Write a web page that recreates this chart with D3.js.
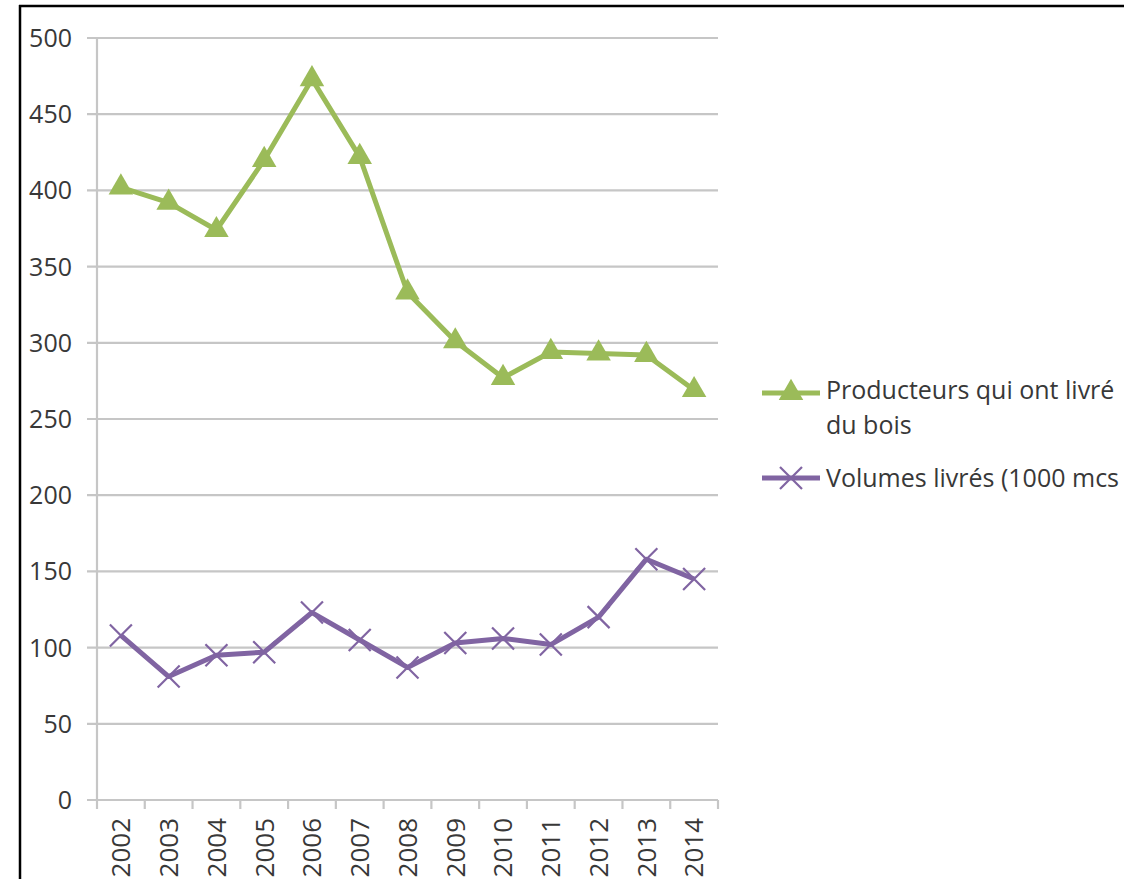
<!DOCTYPE html>
<html>
<head>
<meta charset="utf-8">
<script src="https://cdn.jsdelivr.net/npm/d3@7"></script>
<style>
  html, body { margin: 0; padding: 0; background: #fff; overflow: hidden; }
  svg { display: block; }
  text { font-family: "Open Sans", sans-serif; fill: #383838; }
</style>
</head>
<body>
<svg id="chart" width="1124" height="879"></svg>
<script>
const years = ["2002","2003","2004","2005","2006","2007","2008","2009","2010","2011","2012","2013","2014"];
const producteurs = [402, 392, 374, 420, 473, 422, 333, 301, 277, 294, 293, 292, 269];
const volumes = [108, 81, 95, 97, 123, 105, 87, 103, 106, 102, 120, 158, 145];
const yTicks = [0, 50, 100, 150, 200, 250, 300, 350, 400, 450, 500];
const seriesNames = ["Producteurs qui ont livré", "du bois", "Volumes livrés (1000 mcs"];

const green = "#9BBB59", purple = "#8064A2", grid = "#c6c6c6";
const svg = d3.select("#chart");

// frame
svg.append("line").attr("x1", 20).attr("x2", 20).attr("y1", 5).attr("y2", 879)
  .attr("stroke", "#000").attr("stroke-width", 2.5);
svg.append("line").attr("x1", 19).attr("x2", 1124).attr("y1", 6).attr("y2", 6)
  .attr("stroke", "#000").attr("stroke-width", 2.5);

const x = d3.scaleBand().domain(years).range([97, 718]);
const y = d3.scaleLinear().domain([0, 500]).range([800, 38]);

// gridlines + y labels
const gy = svg.append("g");
yTicks.forEach(t => {
  gy.append("line").attr("x1", 87).attr("x2", 718).attr("y1", y(t)).attr("y2", y(t))
    .attr("stroke", grid).attr("stroke-width", 2.2);
  gy.append("text").attr("x", 72).attr("y", y(t)).attr("dy", "0.36em")
    .attr("text-anchor", "end").attr("font-size", 25).text(t);
});
// y axis line
svg.append("line").attr("x1", 97).attr("x2", 97).attr("y1", y(500)).attr("y2", y(0))
  .attr("stroke", grid).attr("stroke-width", 2.2);

// x ticks at band boundaries
const bounds = years.map(d => x(d)).concat([x.range()[1]]);
bounds.forEach(b => {
  svg.append("line").attr("x1", b).attr("x2", b).attr("y1", 800).attr("y2", 809)
    .attr("stroke", grid).attr("stroke-width", 2.2);
});
// x labels
years.forEach(d => {
  const cx = x(d) + x.bandwidth() / 2;
  svg.append("text")
    .attr("transform", `translate(${cx},818) rotate(-90)`)
    .attr("text-anchor", "end").attr("dy", "0.36em").attr("font-size", 26).text(d);
});

const cx = (d, i) => x(years[i]) + x.bandwidth() / 2;
const line = d3.line().x((d, i) => cx(d, i)).y(d => y(d));

// producteurs
svg.append("path").datum(producteurs).attr("d", line)
  .attr("fill", "none").attr("stroke", green).attr("stroke-width", 5)
  .attr("stroke-linejoin", "round");
const tri = d3.symbol().type(d3.symbolTriangle).size(260);
svg.selectAll(".tri").data(producteurs).enter().append("path")
  .attr("d", tri).attr("fill", green)
  .attr("transform", (d, i) => `translate(${cx(d, i)},${y(d)})`);

// volumes
svg.append("path").datum(volumes).attr("d", line)
  .attr("fill", "none").attr("stroke", purple).attr("stroke-width", 5)
  .attr("stroke-linejoin", "round");
svg.selectAll(".crs").data(volumes).enter().append("path")
  .attr("d", "M-11,-11L11,11M-11,11L11,-11").attr("fill", "none")
  .attr("stroke", purple).attr("stroke-width", 2.2)
  .attr("transform", (d, i) => `translate(${cx(d, i)},${y(d)})`);

// legend
const lg = svg.append("g");
lg.append("line").attr("x1", 762).attr("x2", 820).attr("y1", 393).attr("y2", 393)
  .attr("stroke", green).attr("stroke-width", 5);
lg.append("path").attr("d", tri).attr("fill", green).attr("transform", "translate(791,393)");
lg.append("text").attr("x", 826).attr("y", 399).attr("font-size", 25).text(seriesNames[0]);
lg.append("text").attr("x", 826).attr("y", 434).attr("font-size", 25).text(seriesNames[1]);
lg.append("line").attr("x1", 762).attr("x2", 820).attr("y1", 478).attr("y2", 478)
  .attr("stroke", purple).attr("stroke-width", 5);
lg.append("path").attr("d", "M-11,-11L11,11M-11,11L11,-11").attr("fill", "none")
  .attr("stroke", purple).attr("stroke-width", 2.2).attr("transform", "translate(791,478)");
lg.append("text").attr("x", 826).attr("y", 487).attr("font-size", 25).text(seriesNames[2]);
</script>
</body>
</html>
